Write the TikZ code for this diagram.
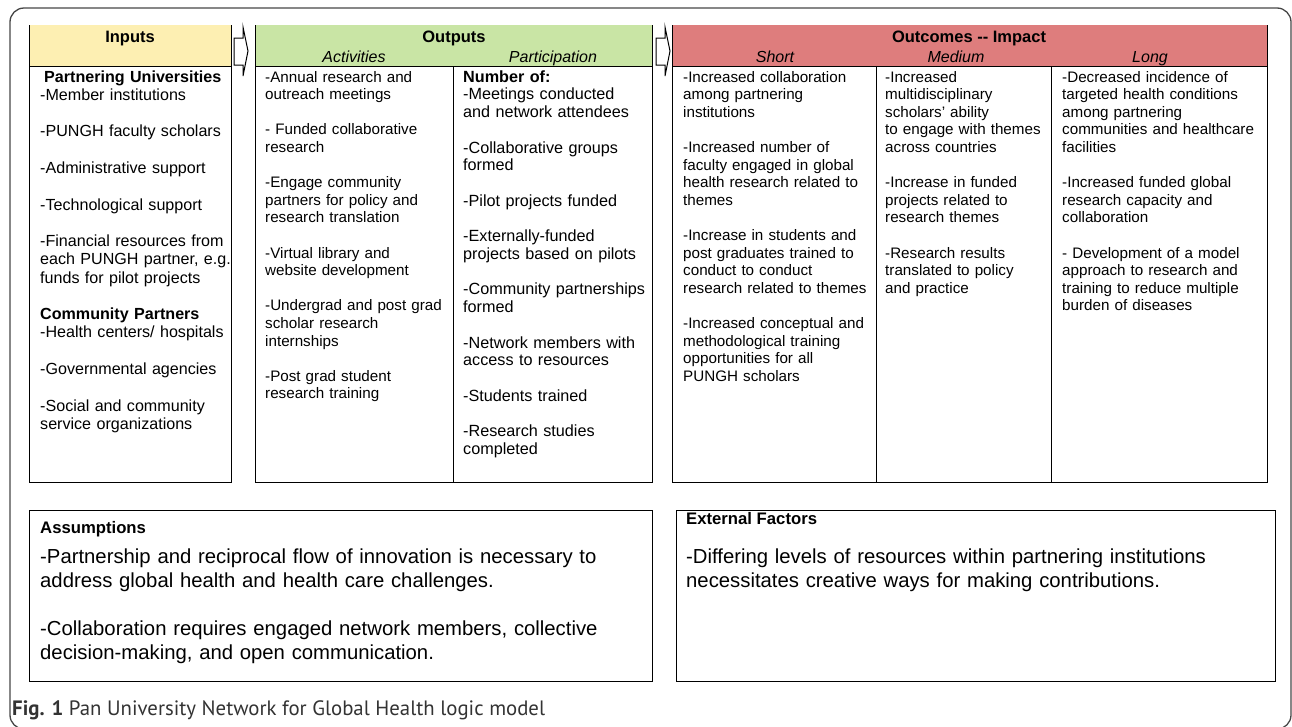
\documentclass[tikz,border=0pt]{standalone}
\usepackage{fontspec}
\setmainfont{Liberation Sans}
\newfontfamily\captionfont{PT Sans}
\usetikzlibrary{positioning,calc}
\definecolor{InputYellow}{RGB}{253,239,178}
\definecolor{OutputGreen}{RGB}{201,229,165}
\definecolor{OutcomeRed}{RGB}{222,125,125}
\definecolor{FrameGray}{RGB}{70,70,70}

\begin{document}
\begin{tikzpicture}[x=1pt,y=-1pt,
    outline/.style={draw=black,line width=1pt},
    blockarrow/.style={draw=black,fill=white,line width=1pt,line join=miter},
    head/.style={anchor=base,inner sep=0pt,font=\fontsize{16.5}{18}\selectfont\bfseries},
    subhead/.style={anchor=base,inner sep=0pt,font=\fontsize{16}{18}\selectfont\itshape},
    cell/.style={anchor=base west,inner sep=0pt,align=left,text width=210pt},
    smallcell/.style={cell,font=\fontsize{15.2}{17.6}\selectfont},
    largecell/.style={cell,font=\fontsize{16.1}{18.2}\selectfont},
    notetitle/.style={anchor=base west,inner sep=0pt,font=\fontsize{16.7}{20}\selectfont\bfseries},
    notetext/.style={anchor=base west,inner sep=0pt,align=left,text width=600pt,
        font=\fontsize{20.3}{24}\selectfont}]
    \useasboundingbox (0,0) rectangle (1292,726);

    % outer frame
    \draw[FrameGray,line width=1.3pt,rounded corners=14pt] (10,8) rectangle (1291,729);

    % column boxes
    \fill[InputYellow] (29,25) rectangle (231,66);
    \draw[outline] (29,25) -- (29,482) -- (231,482) -- (231,25);
    \draw[outline] (29,66) -- (231,66);

    \fill[OutputGreen] (255,25) rectangle (652,66);
    \draw[outline] (255,25) -- (255,482) -- (652,482) -- (652,25);
    \draw[outline] (255,66) -- (652,66);
    \draw[outline] (453,66) -- (453,482);

    \fill[OutcomeRed] (672,25) rectangle (1267,66);
    \draw[outline] (672,25) -- (672,482) -- (1267,482) -- (1267,25);
    \draw[outline] (672,66) -- (1267,66);
    \draw[outline] (876,66) -- (876,482);
    \draw[outline] (1051,66) -- (1051,482);

    % arrows between the columns
    \foreach \ax in {234,656}{
        \draw[blockarrow,shift={(\ax,0)}] (0,38) -- (9,38) -- (9,27) -- (14,51)
            -- (9,76) -- (9,65) -- (0,65) -- cycle;
    }

    % headers
    \node[head] (inputs) at (130,42) {Inputs};
    \node[head] (outputs) at (454,42) {Outputs};
    \node[subhead] (activities) at (354,62) {Activities};
    \node[subhead] (participation) at (553,62) {Participation};
    \node[head] (outcomes) at (969,42) {Outcomes -{}- Impact};
    \node[subhead] (short) at (775,62) {Short};
    \node[subhead] (medium) at (956,62) {Medium};
    \node[subhead] (long) at (1150,62) {Long};

    % inputs
    \node[largecell] (inputlist) at (40,82) {%
        \hspace*{4pt}\textbf{Partnering Universities}\\
        -Member institutions\\[18.4pt]
        -PUNGH faculty scholars\\[18.4pt]
        -Administrative support\\[18.4pt]
        -Technological support\\[18.4pt]
        -Financial resources from\\
        each PUNGH partner, e.g.\\
        funds for pilot projects\\[18.4pt]
        \textbf{Community Partners}\\
        -Health centers/ hospitals\\[18.4pt]
        -Governmental agencies\\[18.4pt]
        -Social and community\\
        service organizations};

    % outputs
    \node[smallcell] (activitylist) at (265,82) {%
        -Annual research and\\
        outreach meetings\\[17.6pt]
        - Funded collaborative\\
        research\\[17.6pt]
        -Engage community\\
        partners for policy and\\
        research translation\\[17.6pt]
        -Virtual library and\\
        website development\\[17.6pt]
        -Undergrad and post grad\\
        scholar research\\
        internships\\[17.6pt]
        -Post grad student\\
        research training};

    \node[cell,font=\fontsize{16.2}{17.8}\selectfont] (participationlist) at (463,82) {%
        \textbf{Number of:}\\
        -Meetings conducted\\
        and network attendees\\[17.6pt]
        -Collaborative groups\\
        formed\\[17.6pt]
        -Pilot projects funded\\[17.6pt]
        -Externally-funded\\
        projects based on pilots\\[17.6pt]
        -Community partnerships\\
        formed\\[17.6pt]
        -Network members with\\
        access to resources\\[17.6pt]
        -Students trained\\[17.6pt]
        -Research studies\\
        completed};

    % outcomes
    \node[smallcell] (shortlist) at (683,82) {%
        -Increased collaboration\\
        among partnering\\
        institutions\\[17.6pt]
        -Increased number of\\
        faculty engaged in global\\
        health research related to\\
        themes\\[17.6pt]
        -Increase in students and\\
        post graduates trained to\\
        conduct to conduct\\
        research related to themes\\[17.6pt]
        -Increased conceptual and\\
        methodological training\\
        opportunities for all\\
        PUNGH scholars};

    \node[smallcell] (mediumlist) at (885,82) {%
        -Increased\\
        multidisciplinary\\
        scholars' ability\\
        to engage with themes\\
        across countries\\[17.6pt]
        -Increase in funded\\
        projects related to\\
        research themes\\[17.6pt]
        -Research results\\
        translated to policy\\
        and practice};

    \node[smallcell] (longlist) at (1062,82) {%
        -Decreased incidence of\\
        targeted health conditions\\
        among partnering\\
        communities and healthcare\\
        facilities\\[17.6pt]
        -Increased funded global\\
        research capacity and\\
        collaboration\\[17.6pt]
        - Development of a model\\
        approach to research and\\
        training to reduce multiple\\
        burden of diseases};

    % assumptions and external factors
    \draw[outline] (29,510) rectangle (652,681);
    \node[notetitle] (assumptions) at (40,533) {Assumptions};
    \node[notetext] (assumptiontext) at (40,563) {%
        -Partnership and reciprocal flow of innovation is necessary to\\
        address global health and health care challenges.\\[24pt]
        -Collaboration requires engaged network members, collective\\
        decision-making, and open communication.};

    \draw[outline] (676,510) rectangle (1275,681);
    \node[notetitle] (external) at (686,524) {External Factors};
    \node[notetext] (externaltext) at (686,563) {%
        -Differing levels of resources within partnering institutions\\
        necessitates creative ways for making contributions.};

    % caption
    \node[anchor=base west,inner sep=0pt,text=black!80,
        font=\captionfont\fontsize{20.8}{24}\selectfont] (caption) at (12,715)
        {\textbf{Fig. 1} Pan University Network for Global Health logic model};
\end{tikzpicture}
\end{document}
